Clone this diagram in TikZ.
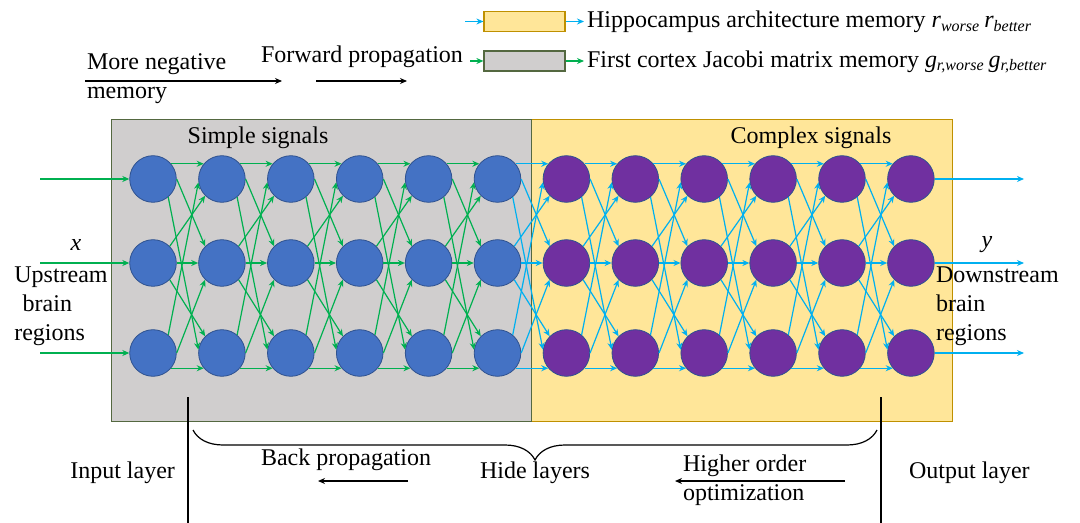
\documentclass[tikz,border=0pt]{standalone}
\usepackage{fontspec}
\setmainfont{Liberation Serif}
\usepackage{xcolor}
\usepackage{tikz}
\usetikzlibrary{arrows.meta,decorations.pathreplacing}

\definecolor{cellblue}{RGB}{68,114,196}
\definecolor{cellpurple}{RGB}{112,48,160}
\definecolor{celledge}{RGB}{47,82,143}
\definecolor{fwdgreen}{RGB}{0,176,80}
\definecolor{hippocyan}{RGB}{0,176,240}
\definecolor{cortexgray}{RGB}{208,206,206}
\definecolor{hippoyellow}{RGB}{255,230,153}
\definecolor{grayline}{RGB}{84,104,64}
\definecolor{yellowline}{RGB}{191,144,0}

% all nine wires from one layer to the next
\newcommand{\wires}[3]{%
  \foreach \i/\j/\s/\t in {1/1/40/140,1/2/0/135,1/3/-50/172,2/1/45/225,2/2/0/180,2/3/-45/135,3/1/50/188,3/2/0/225,3/3/-40/220}
    \draw[#3] (n#1-\i.\s) -- (n#2-\j.\t);}

\begin{document}
\begin{tikzpicture}[x=0.5pt,y=-0.5pt,font=\fontsize{12}{14.5}\selectfont,
  simplecell/.style={circle,draw=celledge,fill=cellblue,minimum size=23.3pt,inner sep=0pt},
  complexcell/.style={simplecell,fill=cellpurple},
  fwd/.style={draw=fwdgreen,line width=0.6pt,-{Stealth[length=3.5pt,width=3pt]}},
  cpx/.style={fwd,draw=hippocyan},
  plain/.style={line width=0.6pt,-{Stealth[length=3.5pt,width=3pt]}},
  legendbox/.style={minimum width=40.5pt,minimum height=10pt,inner sep=0pt,line width=0.6pt}]
\useasboundingbox (0,0) rectangle (1080,523);
% memory regions
\filldraw[fill=hippoyellow,draw=yellowline] (531,119) rectangle (952,421);
\filldraw[fill=cortexgray,draw=grayline] (111,119) rectangle (531,421);
\node (simple) at (258,138) {Simple signals};
\node (complex) at (811,138) {Complex signals};
%
\foreach \k in {1,...,6} {
  \node[simplecell] (n\k-1) at ({153+68.9*(\k-1)},179) {};
  \node[simplecell] (n\k-2) at ({153+68.9*(\k-1)},263) {};
  \node[simplecell] (n\k-3) at ({153+68.9*(\k-1)},353) {};
}
\foreach \k in {7,...,12} {
  \node[complexcell] (n\k-1) at ({153+68.9*(\k-1)},179) {};
  \node[complexcell] (n\k-2) at ({153+68.9*(\k-1)},263) {};
  \node[complexcell] (n\k-3) at ({153+68.9*(\k-1)},353) {};
}
\foreach \k [evaluate=\k as \m using int(\k+1)] in {1,...,5} {\wires{\k}{\m}{fwd}}
\foreach \k [evaluate=\k as \m using int(\k+1)] in {6,...,11} {\wires{\k}{\m}{cpx}}
%
\foreach \r/\yy in {1/179,2/263,3/353} {
  \coordinate (in\r) at (40,\yy);
  \coordinate (out\r) at (1024,\yy);
  \draw[fwd] (in\r) -- (n1-\r);
  \draw[cpx] (n12-\r) -- (out\r);
}
\node (xlab) at (76,245) {\textit{x}};
\node[align=left] (upstream) at (61,306) {Upstream\\\hspace*{0.35em}brain\\regions};
\node (ylab) at (987,245) {\textit{y}};
\node[align=left,anchor=west] (downstream) at (929,306) {Downstream\\brain\\regions};
% legend
\node[legendbox,draw=yellowline,fill=hippoyellow] (hippobox) at (524.5,21.5) {};
\node[legendbox,draw=grayline,fill=cortexgray] (cortexbox) at (524.5,61) {};
\coordinate (hippoin) at (465,21.5);
\coordinate (hippoout) at (584,21.5);
\coordinate (cortexout) at (584,61);
\draw[cpx] (hippoin) -- (hippobox);
\draw[cpx] (hippobox) -- (hippoout);
\draw[fwd] (cortexbox) -- (cortexout);
\node[anchor=west] (hippotext) at (580,22) {Hippocampus architecture memory \textit{r}\textsubscript{\textit{worse}}\,\textit{r}\textsubscript{\textit{better}}};
\node[anchor=west] (cortextext) at (580,62) {First cortex Jacobi matrix memory \textit{g}\textsubscript{\textit{r,worse}}\,\textit{g}\textsubscript{\textit{r,better}}};
\node (forward) at (362,57) {Forward propagation};
\draw[fwd] (forward.east |- cortexbox.west) -- (cortexbox.west);
\node[align=left,anchor=west] (negative) at (80,79) {More negative\\memory};
\coordinate (negA) at (85,81);
\coordinate (negB) at (282,81);
\coordinate (fwdA) at (316,81);
\coordinate (fwdB) at (407,81);
\draw[plain] (negA) -- (negB);
\draw[plain] (fwdA) -- (fwdB);
% layers
\coordinate (braceL) at (193,430);
\coordinate (braceR) at (877,430);
\draw[line width=0.6pt,decorate,decoration={brace,mirror,amplitude=15pt}] (braceL) -- (braceR);
\coordinate (inputtop) at (188,397);
\coordinate (inputbot) at (188,523);
\coordinate (outputtop) at (881,397);
\coordinate (outputbot) at (881,523);
\draw[line width=0.7pt] (inputtop) -- (inputbot);
\draw[line width=0.7pt] (outputtop) -- (outputbot);
\node[anchor=east] (inputlayer) at (182,473) {Input layer};
\node (backprop) at (346,460) {Back propagation};
\coordinate (backA) at (408,481);
\coordinate (backB) at (318,481);
\draw[plain] (backA) -- (backB);
\node (hide) at (535,473) {Hide layers};
\node[align=left,anchor=west] (higher) at (676,480) {Higher order\\optimization};
\coordinate (highA) at (845,481);
\coordinate (highB) at (675,481);
\draw[plain] (highA) -- (highB);
\node[anchor=west] (outputlayer) at (902,473) {Output layer};
\end{tikzpicture}
\end{document}
